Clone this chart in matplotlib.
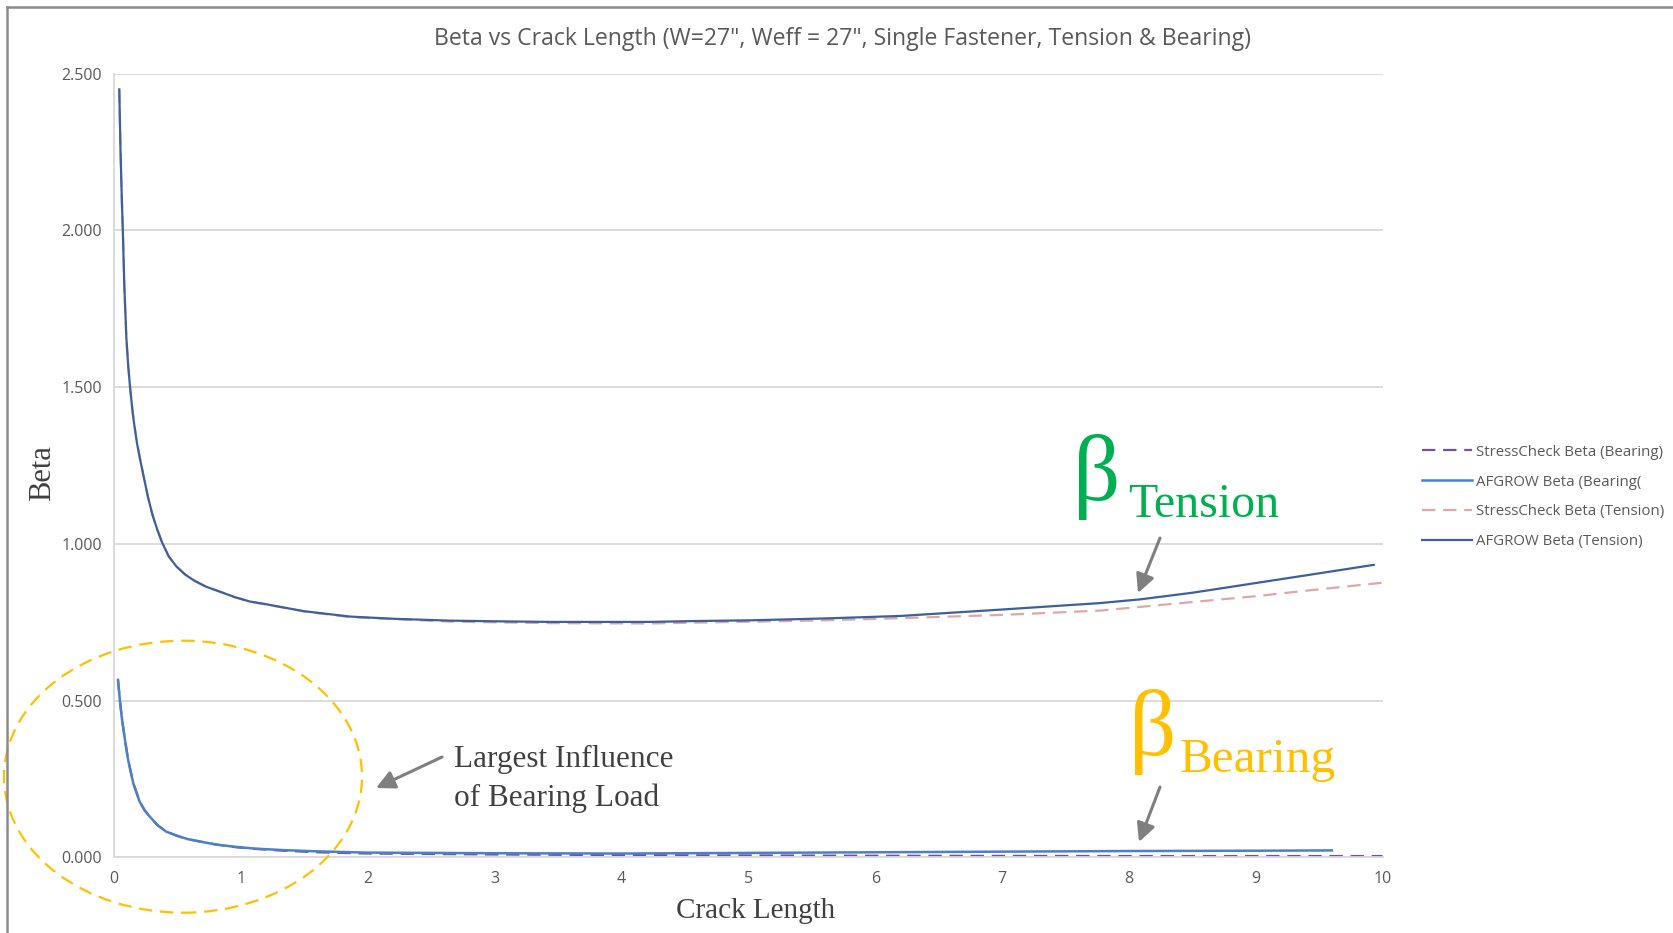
import matplotlib.pyplot as plt
from matplotlib.patches import Ellipse
from matplotlib.lines import Line2D

# --- AFGROW Beta (Tension) ---
afg_t_x = [0.04, 0.05, 0.06, 0.068, 0.08, 0.096, 0.11, 0.125, 0.14, 0.153, 0.18, 0.21, 0.24,
           0.266, 0.3, 0.34, 0.377, 0.43, 0.49, 0.56, 0.63, 0.72, 0.85, 0.95, 1.07, 1.19,
           1.35, 1.5, 1.86, 2.2, 2.65, 3.0, 3.44, 4.22, 4.62, 5.01, 5.6, 6.2, 6.98, 7.77, 8.09,
           8.5, 9.0, 9.5, 9.93]
afg_t_y = [2.45, 2.25, 2.10, 2.0, 1.82, 1.657, 1.57, 1.5, 1.44, 1.395, 1.32, 1.258, 1.20,
           1.15, 1.095, 1.045, 1.005, 0.96, 0.928, 0.902, 0.883, 0.864, 0.845, 0.83, 0.816, 0.808,
           0.796, 0.785, 0.768, 0.761, 0.755, 0.753, 0.751, 0.751, 0.754, 0.756, 0.762, 0.770,
           0.790, 0.811, 0.823, 0.844, 0.875, 0.906, 0.933]

# --- StressCheck Beta (Tension) ---
sc_t_x = [0.04, 0.05, 0.06, 0.068, 0.08, 0.096, 0.11, 0.125, 0.14, 0.153, 0.18, 0.21, 0.24,
          0.266, 0.3, 0.34, 0.377, 0.43, 0.49, 0.56, 0.63, 0.72, 0.85, 0.95, 1.07, 1.5,
          1.86, 2.65, 3.44, 4.22, 4.62, 5.5, 6.2, 6.98, 7.77, 8.09, 9.0, 9.5, 10.0]
sc_t_y = [2.45, 2.25, 2.10, 2.0, 1.82, 1.657, 1.57, 1.5, 1.44, 1.395, 1.32, 1.258, 1.20,
          1.15, 1.095, 1.045, 1.005, 0.96, 0.928, 0.902, 0.883, 0.864, 0.845, 0.83, 0.816, 0.784,
          0.766, 0.752, 0.747, 0.746, 0.749, 0.755, 0.763, 0.773, 0.787, 0.799, 0.833, 0.855, 0.876]

# --- AFGROW Beta (Bearing) ---
afg_b_x = [0.03, 0.045, 0.06, 0.085, 0.11, 0.15, 0.2, 0.24, 0.28, 0.34, 0.41, 0.5, 0.58, 0.68,
           0.8, 0.94, 1.1, 1.33, 1.6, 1.99, 3.0, 4.0, 5.0, 6.0, 7.0, 8.0, 9.0, 9.6]
afg_b_y = [0.566, 0.50, 0.445, 0.374, 0.31, 0.237, 0.178, 0.15, 0.13, 0.103, 0.082, 0.068,
           0.058, 0.05, 0.041, 0.034, 0.028, 0.023, 0.019, 0.015, 0.013, 0.012, 0.014, 0.016,
           0.018, 0.020, 0.021, 0.022]

# --- StressCheck Beta (Bearing) ---
sc_b_x = [0.03, 0.045, 0.06, 0.085, 0.11, 0.15, 0.2, 0.24, 0.28, 0.34, 0.41, 0.5, 0.58, 0.68,
          0.8, 0.94, 1.1, 1.33, 1.6, 2.0, 3.0, 4.0, 6.0, 8.0, 10.0]
sc_b_y = [0.566, 0.50, 0.445, 0.374, 0.31, 0.237, 0.178, 0.15, 0.13, 0.103, 0.082, 0.068,
          0.058, 0.05, 0.041, 0.033, 0.027, 0.021, 0.016, 0.012, 0.009, 0.007, 0.005, 0.004, 0.004]

W, H = 1674, 933


def fx(px):
    return px / W


def fy(py):
    return 1 - py / H


fig = plt.figure(figsize=(W / 100, H / 100), dpi=100)
ax = fig.add_axes([fx(114.2), fy(857.3), (1382.6 - 114.2) / W, (857.3 - 73.7) / H])

ax.plot(sc_b_x, sc_b_y, color='#7451A0', lw=1.6, dashes=(6, 3.5), label='StressCheck Beta (Bearing)')
ax.plot(afg_b_x, afg_b_y, color='#4A80CA', lw=1.8, label='AFGROW Beta (Bearing(')
ax.plot(sc_t_x, sc_t_y, color='#DDA8A6', lw=1.6, dashes=(6, 3.5), label='StressCheck Beta (Tension)')
ax.plot(afg_t_x, afg_t_y, color='#3C609C', lw=1.6, label='AFGROW Beta (Tension)')

ax.set_xlim(0, 10)
ax.set_ylim(0, 2.5)
ax.set_xticks(range(0, 11))
ax.set_yticks([0, 0.5, 1.0, 1.5, 2.0, 2.5])
ax.set_yticklabels(['0.000', '0.500', '1.000', '1.500', '2.000', '2.500'])
ax.tick_params(length=0, labelsize=11.5, labelcolor='#595959', pad=10)
ax.tick_params(axis='y', pad=9)
for lab in ax.get_xticklabels() + ax.get_yticklabels():
    lab.set_family('Open Sans')
ax.grid(axis='y', color='#D9D9D9', lw=1.3)
ax.set_axisbelow(True)
for s in ['top', 'right']:
    ax.spines[s].set_visible(False)
for s in ['left', 'bottom']:
    ax.spines[s].set_color('#D9D9D9')
    ax.spines[s].set_linewidth(1.3)

h, l = ax.get_legend_handles_labels()
fig.legend(h, l, loc='upper left', bbox_to_anchor=(fx(1409), fy(431)), frameon=False,
           prop={'family': 'Open Sans', 'size': 10.8}, labelcolor='#595959',
           handlelength=3.3, handletextpad=0.25, labelspacing=1.0)

fig.text(fx(843), fy(39), 'Beta vs Crack Length (W=27", Weff = 27", Single Fastener, Tension & Bearing)',
         ha='center', va='center', fontsize=16.6, color='#595959', family='Open Sans')
fig.text(fx(756), fy(918), 'Crack Length', ha='center', va='baseline', fontsize=21,
         color='#404040', family='Liberation Serif')
fig.text(fx(43), fy(473), 'Beta', ha='center', va='center', rotation=90, fontsize=22,
         color='#404040', family='Liberation Serif')

# beta annotations
fig.text(fx(1073), fy(500), 'β', fontsize=67, color='#00B050', family='Liberation Serif', va='baseline')
fig.text(fx(1128), fy(517), 'Tension', fontsize=34.5, color='#00B050', family='Liberation Serif', va='baseline')
fig.text(fx(1129), fy(755), 'β', fontsize=67, color='#FFC000', family='Liberation Serif', va='baseline')
fig.text(fx(1180), fy(772), 'Bearing', fontsize=35.5, color='#FFC000', family='Liberation Serif', va='baseline')

fig.text(fx(454), fy(767), 'Largest Influence', fontsize=22.5, color='#404040',
         family='Liberation Serif', va='baseline')
fig.text(fx(454), fy(806), 'of Bearing Load', fontsize=22.5, color='#404040',
         family='Liberation Serif', va='baseline')

arrow = dict(arrowstyle='-|>', color='#7F7F7F', lw=2.2, mutation_scale=28, shrinkA=0, shrinkB=0)
for (x0, y0), (x1, y1) in [((1160, 538), (1138, 593)), ((1160, 787), (1139, 842)),
                           ((442, 757), (376, 788))]:
    ax.annotate('', xy=(fx(x1), fy(y1)), xycoords='figure fraction',
                xytext=(fx(x0), fy(y0)), textcoords='figure fraction', arrowprops=arrow)

fig.add_artist(Ellipse((fx(183), fy(776.7)), width=358 / W, height=272 / H,
                       transform=fig.transFigure, fill=False, edgecolor='#FFC000',
                       lw=1.6, linestyle=(0, (6, 3.5))))

# outer frame
fig.add_artist(Line2D([fx(7), fx(7)], [0, fy(7)], color='#8C8C8C', lw=1.8))
fig.add_artist(Line2D([fx(7), 1], [fy(7), fy(7)], color='#8C8C8C', lw=1.8))

fig.savefig('out.png', dpi=100)
